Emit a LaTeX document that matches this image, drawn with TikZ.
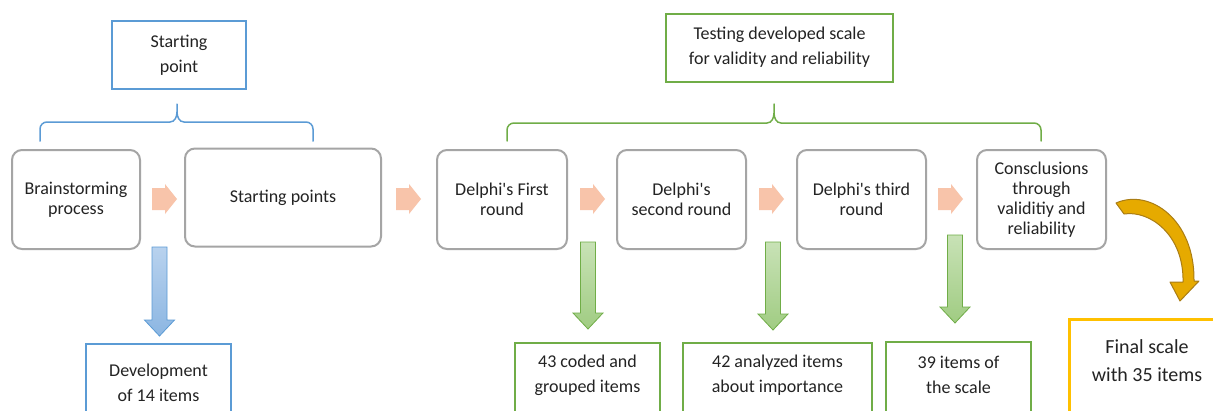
\documentclass[tikz,border=0pt]{standalone}
\usepackage{fontspec}
\setmainfont{Carlito}
\definecolor{txtc}{RGB}{35,35,35}
\definecolor{grayb}{RGB}{165,165,165}
\definecolor{blueb}{RGB}{91,155,213}
\definecolor{greenb}{RGB}{112,173,71}
\definecolor{yellowb}{RGB}{255,192,0}
\definecolor{orangef}{RGB}{248,196,170}
\definecolor{bluetop}{RGB}{184,210,238}
\definecolor{bluebot}{RGB}{140,182,226}
\definecolor{greentop}{RGB}{200,226,182}
\definecolor{greenbot}{RGB}{160,204,130}
\definecolor{goldf}{RGB}{230,170,0}
\definecolor{goldd}{RGB}{170,125,20}
\tikzset{
  graybox/.style={draw=grayb, line width=2pt, rounded corners=10pt, fill=white,
    inner sep=0pt, text=txtc, align=center, font=\fontsize{18}{20}\selectfont},
  framebox/.style={draw=#1, line width=2pt, inner sep=0pt, fill=white},
  txt/.style={text=txtc, align=center, inner sep=0pt, font=\fontsize{18}{25}\selectfont},
  bigtxt/.style={text=txtc, align=center, inner sep=0pt, font=\fontsize{20}{28}\selectfont},
  bracket/.style={line width=1.5pt, line cap=round},
  orangearrow/.style={fill=orangef},
  bluearrow/.style={top color=bluetop, bottom color=bluebot, draw=blueb, line width=0.8pt},
  greenarrow/.style={top color=greentop, bottom color=greenbot, draw=greenb, line width=0.8pt},
  goldarrow/.style={fill=goldf, draw=goldd, line width=1pt, line join=round}
}
\newcommand\blkdown[5]{%
  \path[#5] ({#1-7.5},#2) -- ({#1+7.5},#2) -- ({#1+7.5},#3) -- ({#1+15},#3)
    -- (#1,#4) -- ({#1-15},#3) -- ({#1-7.5},#3) -- cycle;}
\newcommand\blkright[2]{%
  \path[orangearrow] (#1,{#2-11}) -- ({#1+13},{#2-11}) -- ({#1+13},{#2-15})
    -- ({#1+25},#2) -- ({#1+13},{#2+15}) -- ({#1+13},{#2+11}) -- (#1,{#2+11}) -- cycle;}
\newcommand\apos{\textquotesingle}
\begin{document}
\begin{tikzpicture}[x=1pt,y=-1pt]
\useasboundingbox[fill=white] (0,0) rectangle (1213,410);
\clip (0,0) rectangle (1213,410);

% top boxes
\node[framebox=blueb, minimum width=134pt, minimum height=68pt] (sp) at (179,55) {};
\node[txt] (spt) at (179,55.5) {Starting\\point};
\node[framebox=greenb, minimum width=227pt, minimum height=68pt] (test) at (779.5,48) {};
\node[txt] (testt) at (779.5,47.5) {Testing developed scale\\for validity and reliability};

% brackets
\draw[bracket, draw=blueb] (40,141) -- (40,129) to[out=90,in=180] (47,122) -- (170,122)
  to[out=0,in=-90] (177,112) -- (177,104)
  (177,112) to[out=-90,in=180] (184,122) -- (306,122) to[out=0,in=90] (313,129) -- (313,141);
\draw[bracket, draw=greenb] (507,141) -- (507,130) to[out=90,in=180] (514,123) -- (767,123)
  to[out=0,in=-90] (774,113) -- (774,104)
  (774,113) to[out=-90,in=180] (781,123) -- (1034,123) to[out=0,in=90] (1041,130) -- (1041,141);

% process boxes
\node[graybox, minimum width=128pt, minimum height=99pt] (brain) at (76,199.5) {Brainstorming\\process};
\node[graybox, minimum width=196pt, minimum height=98pt] (spts) at (283,197.5) {Starting points};
\node[graybox, minimum width=130pt, minimum height=99pt] (d1) at (502,199.5) {Delphi\apos s First\\round};
\node[graybox, minimum width=129pt, minimum height=99pt] (d2) at (681.5,199.5) {Delphi\apos s\\second round};
\node[graybox, minimum width=129pt, minimum height=99pt] (d3) at (861.5,199.5) {Delphi\apos s third\\round};
\node[graybox, minimum width=129pt, minimum height=99pt] (conc) at (1041.5,199.5) {Consclusions\\through\\validitiy and\\reliability};

% orange arrows
\blkright{152}{199}
\blkright{396}{199}
\blkright{580}{199}
\blkright{759}{199}
\blkright{938}{199}

% down arrows
\blkdown{159.5}{247}{320}{336}{bluearrow}
\blkdown{588}{242}{313}{329}{greenarrow}
\blkdown{773}{242}{314}{330}{greenarrow}
\blkdown{955}{235}{307}{323}{greenarrow}

% bottom boxes
\node[framebox=blueb, minimum width=145pt, minimum height=90pt, anchor=north] (dev) at (158.5,343) {};
\node[txt] (devt) at (158.5,382.5) {Development\\of 14 items};
\node[framebox=greenb, minimum width=145pt, minimum height=90pt, anchor=north] (b43) at (587.5,342) {};
\node[txt] (b43t) at (587.5,375.5) {43 coded and\\grouped items};
\node[framebox=greenb, minimum width=189pt, minimum height=90pt, anchor=north] (b42) at (777.5,342) {};
\node[txt] (b42t) at (777.5,375.5) {42 analyzed items\\about importance};
\node[framebox=greenb, minimum width=145pt, minimum height=90pt, anchor=north] (b39) at (958.5,341) {};
\node[txt] (b39t) at (958.5,374.5) {39 items of\\the scale};
\node[draw=yellowb, line width=2.5pt, fill=white, inner sep=0pt, minimum width=158pt,
  minimum height=110pt, anchor=north west] (final) at (1068,318) {};
\node[bigtxt] (finalt) at (1147,361) {Final scale\\with 35 items};

% curved gold arrow
\path[goldarrow] (1116,203) .. controls (1150,188) and (1195,220) .. (1194,281)
  -- (1199,281) -- (1180,301) -- (1170,282) -- (1183,282)
  .. controls (1184,235) and (1150,210) .. (1124,214) -- cycle;
\end{tikzpicture}
\end{document}
